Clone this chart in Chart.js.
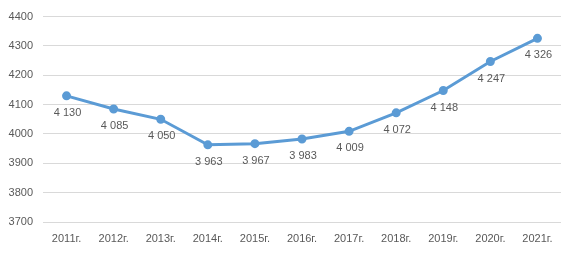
<!DOCTYPE html>
<html lang="ru">
<head>
<meta charset="UTF-8">
<title>2011-2021</title>
<script src="https://cdn.jsdelivr.net/npm/chart.js"></script>
<style>
  html, body { margin: 0; padding: 0; background: #fff; }
  #wrap { width: 577px; height: 253px; }
</style>
</head>
<body>
<div id="wrap"><canvas id="myChart"></canvas></div>
<script>
  const years = ['2011г.', '2012г.', '2013г.', '2014г.', '2015г.', '2016г.', '2017г.', '2018г.', '2019г.', '2020г.', '2021г.'];
  const values = [4130, 4085, 4050, 3963, 3967, 3983, 4009, 4072, 4148, 4247, 4326];
  const yTicks = [3700, 3800, 3900, 4000, 4100, 4200, 4300, 4400];

  const textColor = '#595959';
  const fontFamily = '"Liberation Sans", Arial, sans-serif';

  function fmt(v) {
    return String(v).replace(/\B(?=(\d{3})+(?!\d))/g, ' ');
  }

  // draws the value under every point
  const pointLabels = {
    id: 'pointLabels',
    afterDatasetsDraw(chart) {
      const ctx = chart.ctx;
      const meta = chart.getDatasetMeta(0);
      ctx.save();
      ctx.font = '11px ' + fontFamily;
      ctx.fillStyle = textColor;
      ctx.textAlign = 'center';
      ctx.textBaseline = 'middle';
      meta.data.forEach((pt, i) => {
        ctx.fillText(fmt(values[i]), pt.x + 1, pt.y + 17);
      });
      ctx.restore();
    }
  };

  new Chart(document.getElementById('myChart'), {
    type: 'line',
    data: {
      labels: years,
      datasets: [{
        data: values,
        borderColor: '#5B9BD5',
        backgroundColor: '#5B9BD5',
        borderWidth: 3,
        pointRadius: 3,
        pointHoverRadius: 3,
        tension: 0
      }]
    },
    options: {
      responsive: true,
      maintainAspectRatio: false,
      animation: false,
      events: [],
      layout: { padding: { top: 14, right: 16, left: 0, bottom: 0 } },
      plugins: {
        legend: { display: false },
        tooltip: { enabled: false }
      },
      scales: {
        x: {
          offset: true,
          grid: { display: false, drawTicks: false },
          border: { display: false },
          ticks: {
            color: textColor,
            font: { family: fontFamily, size: 11 },
            padding: 10,
            maxRotation: 0,
            autoSkip: false
          },
          afterFit(scale) { scale.height = 31; }
        },
        y: {
          min: 3700,
          max: 4400,
          grid: { color: '#d9d9d9', lineWidth: 1, drawTicks: false },
          border: { display: false },
          afterBuildTicks(scale) { scale.ticks = yTicks.map(v => ({ value: v })); },
          ticks: {
            color: textColor,
            font: { family: fontFamily, size: 11 },
            padding: 10,
            callback: v => String(v)
          },
          afterFit(scale) { scale.width = 43; }
        }
      }
    },
    plugins: [pointLabels]
  });
</script>
</body>
</html>
